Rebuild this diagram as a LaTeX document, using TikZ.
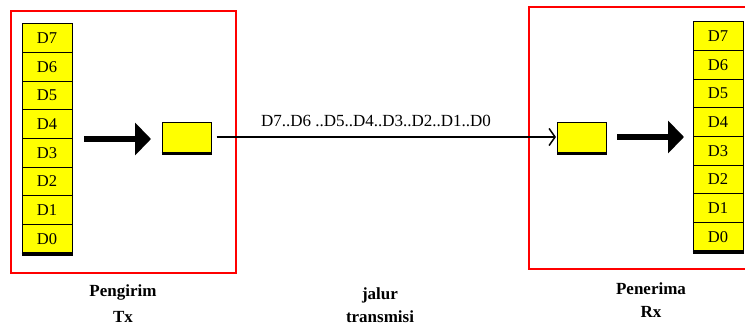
\documentclass[tikz,border=0pt]{standalone}
\usepackage{fontspec}
\setmainfont{Liberation Serif}
\usetikzlibrary{arrows.meta}
\definecolor{regyellow}{RGB}{255,255,0}
\definecolor{boxred}{RGB}{255,0,0}
\tikzset{
  cell/.style={draw=black, line width=1pt, fill=regyellow, minimum width=50pt, minimum height=28.6pt, inner sep=0pt, font=\fontsize{16.5}{18}\selectfont},
  buf/.style={draw=black, line width=1pt, fill=regyellow, minimum width=49pt, minimum height=30pt, inner sep=0pt},
  frame/.style={draw=boxred, line width=2.5pt},
  bigarrow/.style={line width=6pt, -{Triangle[length=16pt,width=32pt]}},
  wire/.style={line width=1.8pt, -{Straight Barb[length=6pt,width=17pt,line width=1.5pt]}},
  seqlbl/.style={anchor=base, inner sep=0pt, font=\fontsize{17}{20}\selectfont},
  lbl/.style={anchor=base, inner sep=0pt, font=\fontsize{17}{20}\selectfont\bfseries}
}
\begin{document}
\begin{tikzpicture}[x=1pt,y=-1pt]
\useasboundingbox (0,0) rectangle (745,329);
\clip (0,0) rectangle (745,329);
% red frames
\draw[frame] (11,11) rectangle (236,273);
\draw[frame] (529,7) rectangle (752,269);
% left register
\foreach \i [evaluate=\i as \y using {24+28.625*(7-\i)+14.3}] in {7,6,5,4,3,2,1,0} {
  \node[cell] (l\i) at (47,\y) {D\i};
}
\draw[line width=2.5pt] ([yshift=-0.8pt]l0.south west) -- ([yshift=-0.8pt]l0.south east);
% right register
\foreach \i [evaluate=\i as \y using {22+28.625*(7-\i)+14.3}] in {7,6,5,4,3,2,1,0} {
  \node[cell] (r\i) at (718,\y) {D\i};
}
\draw[line width=2.5pt] ([yshift=-0.8pt]r0.south west) -- ([yshift=-0.8pt]r0.south east);
% buffers
\node[buf] (tx) at (186.5,137) {};
\draw[line width=2.5pt] ([yshift=-0.8pt]tx.south west) -- ([yshift=-0.8pt]tx.south east);
\node[buf] (rx) at (582,137) {};
\draw[line width=2.5pt] ([yshift=-0.8pt]rx.south west) -- ([yshift=-0.8pt]rx.south east);
% big arrows
\coordinate (la) at (84,139);
\coordinate (lb) at (151,139);
\draw[bigarrow] (la) -- (lb);
\coordinate (ra) at (617,137);
\coordinate (rb) at (684,137);
\draw[bigarrow] (ra) -- (rb);
% transmission line
\draw[wire] ([xshift=5pt]tx.east) -- ([xshift=-1pt]rx.west);
\node[seqlbl] (seq) at (376,126) {D7..D6 ..D5..D4..D3..D2..D1..D0};
% labels
\node[lbl] (peng) at (123,296) {Pengirim};
\node[lbl] (txl) at (123,322) {Tx};
\node[lbl] (jal) at (380,299) {jalur};
\node[lbl] (trans) at (380,322) {transmisi};
\node[lbl] (pen) at (651,294) {Penerima};
\node[lbl] (rxl) at (651,317) {Rx};
\end{tikzpicture}
\end{document}
